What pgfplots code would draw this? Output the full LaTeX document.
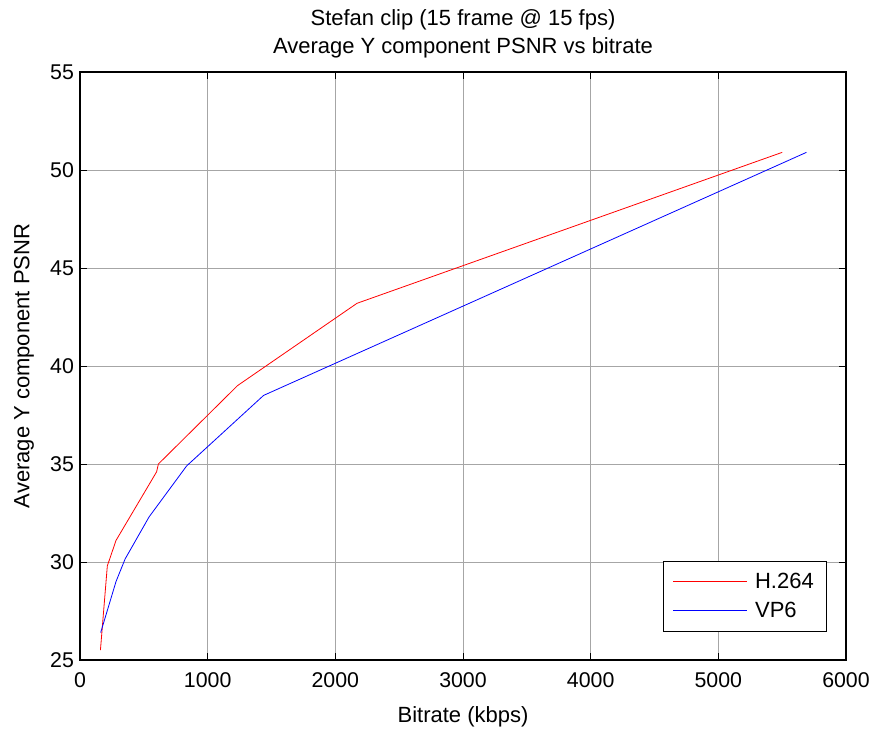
\documentclass[border=0pt]{standalone}
\usepackage{fontspec}
\setmainfont{Liberation Sans}
\usepackage{pgfplots}
\pgfplotsset{compat=1.18}
\begin{document}
\begin{tikzpicture}
\path[use as bounding box] (0pt,0pt) rectangle (654.75pt,546.75pt);
\begin{axis}[
  at={(60pt,51.75pt)}, anchor=south west,
  scale only axis, width=574.5pt, height=441pt,
  xmin=0, xmax=6000, ymin=25, ymax=55,
  xtick={0,1000,...,6000}, ytick={25,30,...,55},
  scaled x ticks=false,
  /pgf/number format/assume math mode=true,
  /pgf/number format/1000 sep={},
  tick label style={font=\fontsize{16}{19}\selectfont},
  yticklabel style={xshift=-1pt},
  xticklabel style={yshift=-6pt},
  label style={font=\fontsize{16.5}{20}\selectfont},
  title style={font=\fontsize{16.5}{21}\selectfont, align=center, at={(0.5,1)}, anchor=south, yshift=1pt},
  title={Stefan clip (15 frame @ 15 fps)\\Average Y component PSNR vs bitrate},
  xlabel={Bitrate (kbps)}, ylabel={Average Y component PSNR},
  xlabel style={yshift=-7pt},
  ylabel style={at={(axis description cs:-0.073,0.5)}, anchor=center},
  tick align=inside, major tick length=5pt,
  tick style={black, line width=0.6pt},
  axis line style={black, line width=0.8pt},
  grid=major, major grid style={gray!70, line width=0.5pt},
  legend style={at={(0.974,0.048)}, anchor=south east,
    font=\fontsize{16.5}{20}\selectfont, inner xsep=7pt, inner ysep=7pt, row sep=5pt,
    /tikz/every odd column/.append style={column sep=4pt}},
  legend cell align=left,
  legend image code/.code={\path (-3pt,0pt) -- (52pt,0pt); \draw[#1] (0pt,0pt) -- (52pt,0pt);},
]
\addplot[draw=red, line width=0.6pt] coordinates {
  (160,25.5) (214,29.8) (282,31.1) (600,34.6) (614,35.0) (1234,39.0) (2170,43.2) (5500,50.9)
};
\addlegendentry{H.264}
\addplot[draw=blue, line width=0.6pt] coordinates {
  (162,26.4) (282,29.0) (353,30.15) (541,32.3) (835,34.9) (1438,38.5) (5690,50.9)
};
\addlegendentry{VP6}
\end{axis}
\end{tikzpicture}
\end{document}
